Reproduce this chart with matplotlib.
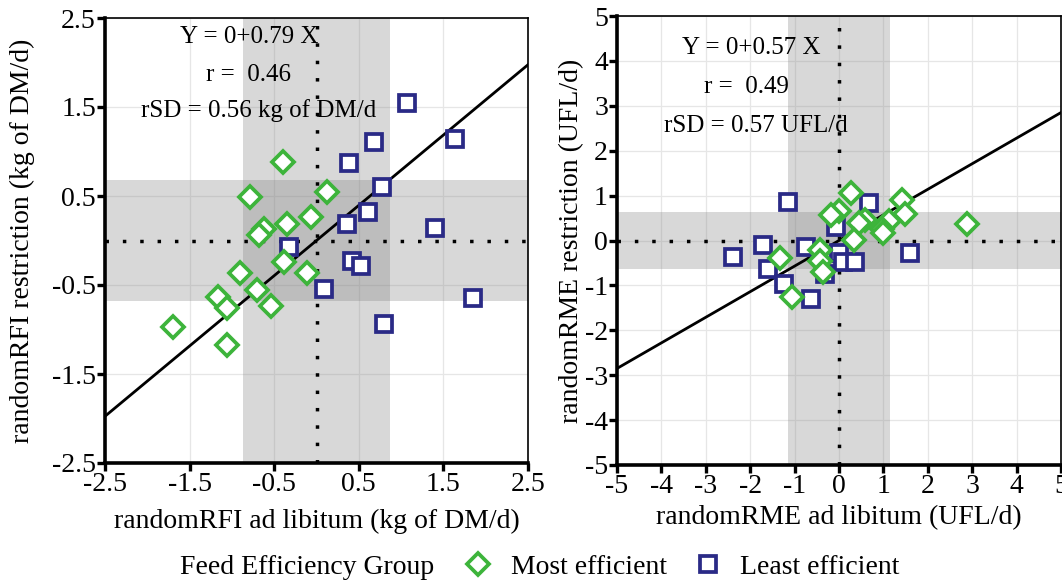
import matplotlib
matplotlib.use("Agg")
import matplotlib.pyplot as plt
from matplotlib.lines import Line2D
import numpy as np

plt.rcParams['font.family'] = ['Liberation Serif', 'DejaVu Serif']

# ---------------- data ----------------
# Left panel: randomRFI (kg of DM/d)
rfi_most_x = [-0.40, -0.79, 0.13, -0.06, -0.35, -0.62, -0.68, -0.38, -0.91, -0.11,
              -0.70, -1.16, -1.06, -0.54, -1.70, -1.06]
rfi_most_y = [0.885, 0.485, 0.54, 0.26, 0.185, 0.13, 0.06, -0.245, -0.37, -0.36,
              -0.56, -0.64, -0.76, -0.74, -0.97, -1.17]
rfi_least_x = [1.07, 1.64, 0.68, 0.38, 0.78, 0.61, 0.36, 1.40, -0.32, 0.42,
               0.53, 0.09, 1.85, 0.80]
rfi_least_y = [1.54, 1.14, 1.11, 0.87, 0.60, 0.32, 0.185, 0.14, -0.07, -0.23,
               -0.29, -0.55, -0.65, -0.94]

# Right panel: randomRME (UFL/d)
rme_most_x = [0.26, 1.41, 0.0, -0.19, 1.48, 0.58, 1.12, 0.45, 0.96, 1.0,
              0.33, -1.32, -0.42, -0.43, -0.36, -1.05, 2.88]
rme_most_y = [1.05, 0.91, 0.66, 0.56, 0.58, 0.46, 0.44, 0.40, 0.25, 0.17,
              0.02, -0.38, -0.22, -0.45, -0.70, -1.26, 0.36]
rme_least_x = [-1.14, 0.67, -0.07, -1.72, -0.75, 1.61, 0.0, 0.08, 0.37, -1.61,
               -0.32, -1.23, -0.63, -2.39]
rme_least_y = [0.85, 0.83, 0.30, -0.11, -0.15, -0.28, -0.28, -0.47, -0.47, -0.63,
               -0.74, -0.96, -1.30, -0.37]

rfi_slope, rfi_sdx, rfi_sdy = 0.79, 0.87, 0.68
rme_slope, rme_sdx, rme_sdy = 0.57, 1.15, 0.63

rfi_ticks = [-2.5, -1.5, -0.5, 0.5, 1.5, 2.5]
rme_ticks = [-5, -4, -3, -2, -1, 0, 1, 2, 3, 4, 5]

rfi_text = ["Y = 0+0.79 X", "r =  0.46", "rSD = 0.56 kg of DM/d"]
rfi_text_xy = [(-0.80, 2.29), (-0.80, 1.86), (-0.68, 1.455)]
rme_text = ["Y = 0+0.57 X", "r =  0.49", "rSD = 0.57 UFL/d"]
rme_text_xy = [(-1.97, 4.28), (-2.08, 3.41), (-1.88, 2.56)]

green = '#3DB43B'
navy = '#2A2A86'
MS_D, MS_S, MEW = 10.8, 11.0, 2.7

W, H = 1062, 584
fig = plt.figure(figsize=(W / 100, H / 100), dpi=100)

ax1 = fig.add_axes([105 / W, (H - 463) / H, 423 / W, 445 / H])
ax2 = fig.add_axes([617 / W, (H - 465) / H, 444 / W, 449 / H])


def style(ax, ticks, lim, xlabel, ylabel, ylab_x, xlab_y):
    ax.set_xlim(lim)
    ax.set_ylim(lim)
    ax.set_xticks(ticks)
    ax.set_yticks(ticks)
    ax.set_xticklabels([('%g' % t) for t in ticks])
    ax.set_yticklabels([('%g' % t) for t in ticks])
    ax.grid(True, color='#E6E6E6', lw=0.9, zorder=0)
    ax.set_axisbelow(True)
    for s in ['left', 'bottom']:
        ax.spines[s].set_linewidth(2.6)
    for s in ['top', 'right']:
        ax.spines[s].set_linewidth(1.2)
    ax.tick_params(axis='both', length=5.5, width=2.4, direction='out',
                   labelsize=20, pad=1, colors='black')
    ax.set_xlabel(xlabel, fontsize=20)
    ax.set_ylabel(ylabel, fontsize=20)
    ax.xaxis.set_label_coords(0.5, xlab_y)
    ax.xaxis.label.set_va('center')
    ax.yaxis.set_label_coords(ylab_x, 0.5)
    ax.yaxis.label.set_va('center')


def panel(ax, mx, my, lx, ly, slope, sdx, sdy, lim, texts, txy):
    ax.axvspan(-sdx, sdx, color='#808080', alpha=0.3, lw=0, zorder=1)
    ax.axhspan(-sdy, sdy, color='#808080', alpha=0.3, lw=0, zorder=1)
    ax.axvline(0, color='black', lw=2.5, ls=(0, (1, 4.0)), zorder=2)
    ax.axhline(0, color='black', lw=2.5, ls=(0, (1, 4.0)), zorder=2)
    xs = np.array(lim)
    ax.plot(xs, slope * xs, color='black', lw=2.0, zorder=3)
    ax.plot(lx, ly, ls='none', marker='s', ms=MS_S, mew=MEW, mec=navy,
            mfc='white', zorder=4)
    ax.plot(mx, my, ls='none', marker='D', ms=MS_D, mew=MEW, mec=green,
            mfc='white', zorder=4)
    for t, (x, y) in zip(texts, txy):
        ax.text(x, y, t, ha='center', va='center', fontsize=18, zorder=5)


panel(ax1, rfi_most_x, rfi_most_y, rfi_least_x, rfi_least_y,
      rfi_slope, rfi_sdx, rfi_sdy, (-2.5, 2.5), rfi_text, rfi_text_xy)
panel(ax2, rme_most_x, rme_most_y, rme_least_x, rme_least_y,
      rme_slope, rme_sdx, rme_sdy, (-5, 5), rme_text, rme_text_xy)

style(ax1, rfi_ticks, (-2.5, 2.5), 'randomRFI ad libitum (kg of DM/d)',
      'randomRFI restriction (kg of DM/d)', (22 - 105) / 423, (463 - 521) / 445)
style(ax2, rme_ticks, (-5, 5), 'randomRME ad libitum (UFL/d)',
      'randomRME restriction (UFL/d)', (572 - 617) / 444, (465 - 518) / 449)

# legend
fig.text(180 / W, (H - 567) / H, 'Feed Efficiency Group', fontsize=20,
         ha='left', va='center')
handles = [Line2D([], [], ls='none', marker='D', ms=MS_D, mew=MEW, mec=green, mfc='white'),
           Line2D([], [], ls='none', marker='s', ms=MS_S, mew=MEW, mec=navy, mfc='white')]
fig.legend(handles, ['Most efficient', 'Least efficient'], ncol=2, frameon=False,
           loc='center left', bbox_to_anchor=(464.5 / W, (H - 567) / H),
           borderaxespad=0, borderpad=0, handlelength=1.0, handletextpad=0.66,
           columnspacing=1.0, fontsize=20)

fig.savefig('out.png', dpi=100)
